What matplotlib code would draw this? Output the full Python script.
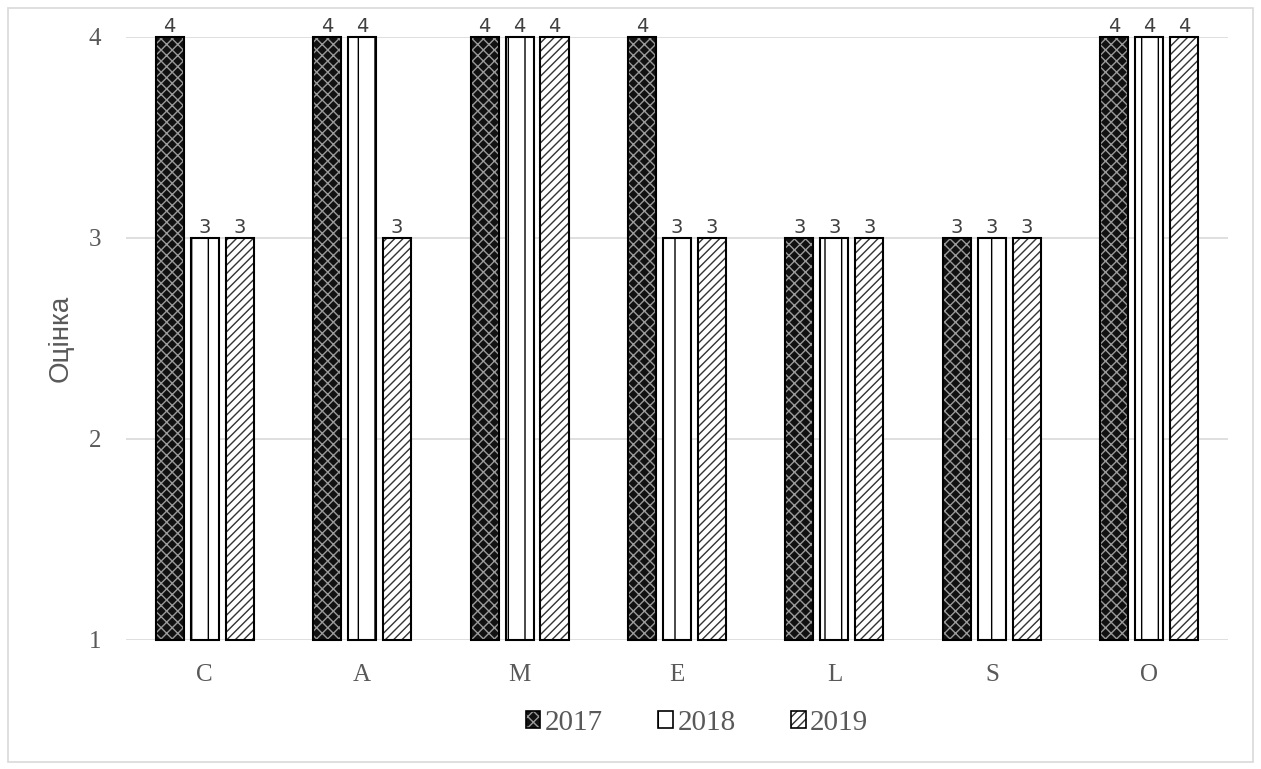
import matplotlib
matplotlib.use("Agg")
import matplotlib.pyplot as plt
from matplotlib.patches import Patch, Rectangle
from matplotlib.legend_handler import HandlerTuple
import numpy as np

categories = ["C", "A", "M", "E", "L", "S", "O"]
years = ["2017", "2018", "2019"]
v2017 = [4, 4, 4, 4, 3, 3, 4]
v2018 = [3, 4, 4, 3, 3, 3, 4]
v2019 = [3, 3, 4, 3, 3, 3, 4]
yticks = [1, 2, 3, 4]
ylabel = "Оцінка"

series = [v2017, v2018, v2019]
styles = [
    dict(face="#111111", hatch_col="#9a9a9a", hatch="xxx"),
    dict(face="white", hatch_col="#000000", hatch="|"),
    dict(face="white", hatch_col="#333333", hatch="////"),
]

plt.rcParams["hatch.linewidth"] = 1.0
fig = plt.figure(figsize=(12.61, 7.69), dpi=100)
fig.patches.append(Rectangle((0.006, 0.009), 0.988, 0.981, transform=fig.transFigure,
                             fill=False, edgecolor="#d9d9d9", linewidth=1.2))
ax = fig.add_axes([0.0999, 0.1678, 0.8739, 0.7841])

x = np.arange(len(categories))
w = 0.178
offs = [-0.222, 0.0, 0.222]
base = yticks[0]
handles = []
for vals, st, off, yr in zip(series, styles, offs, years):
    h = [v - base for v in vals]
    ax.bar(x + off, h, bottom=base, width=w, color=st["face"], edgecolor=st["hatch_col"],
           hatch=st["hatch"], linewidth=0, zorder=2, clip_on=False)
    ax.bar(x + off, h, bottom=base, width=w, fill=False, edgecolor="black",
           linewidth=1.5, zorder=3, clip_on=False)
    for xi, v in zip(x + off, vals):
        ax.text(xi, v + 0.004, str(v), ha="center", va="bottom", fontsize=14,
                color="#404040", family="DejaVu Sans")
    handles.append((Patch(facecolor=st["face"], edgecolor=st["hatch_col"], hatch=st["hatch"], linewidth=0),
                    Patch(fill=False, edgecolor="black", linewidth=1.2)))

ax.set_xlim(-0.5, len(categories) - 0.5)
ax.set_ylim(yticks[0], yticks[-1])
ax.set_yticks(yticks)
ax.set_xticks(x)
ax.set_xticklabels(categories)
ax.yaxis.grid(True, color="#d9d9d9", linewidth=1.2, zorder=0)
ax.set_axisbelow(True)
for s in ax.spines.values():
    s.set_visible(False)
ax.tick_params(axis="both", length=0, labelsize=18, labelcolor="#595959")
ax.tick_params(axis="y", pad=18)
ax.tick_params(axis="x", pad=17)
for lab in ax.get_xticklabels() + ax.get_yticklabels():
    lab.set_family("Liberation Serif")
ax.set_ylabel(ylabel, fontsize=20, color="#595959", family="Liberation Sans", labelpad=11)

leg = fig.legend(handles, years, loc="center", bbox_to_anchor=(697 / 1261, 1 - 723 / 769),
                 ncol=3, frameon=False, handlelength=0.5, handleheight=0.5, handletextpad=0.15,
                 columnspacing=1.9, prop={"family": "Liberation Serif", "size": 21},
                 handler_map={tuple: HandlerTuple(ndivide=1)})
for t in leg.get_texts():
    t.set_color("#595959")

fig.savefig("out.png", dpi=100)
